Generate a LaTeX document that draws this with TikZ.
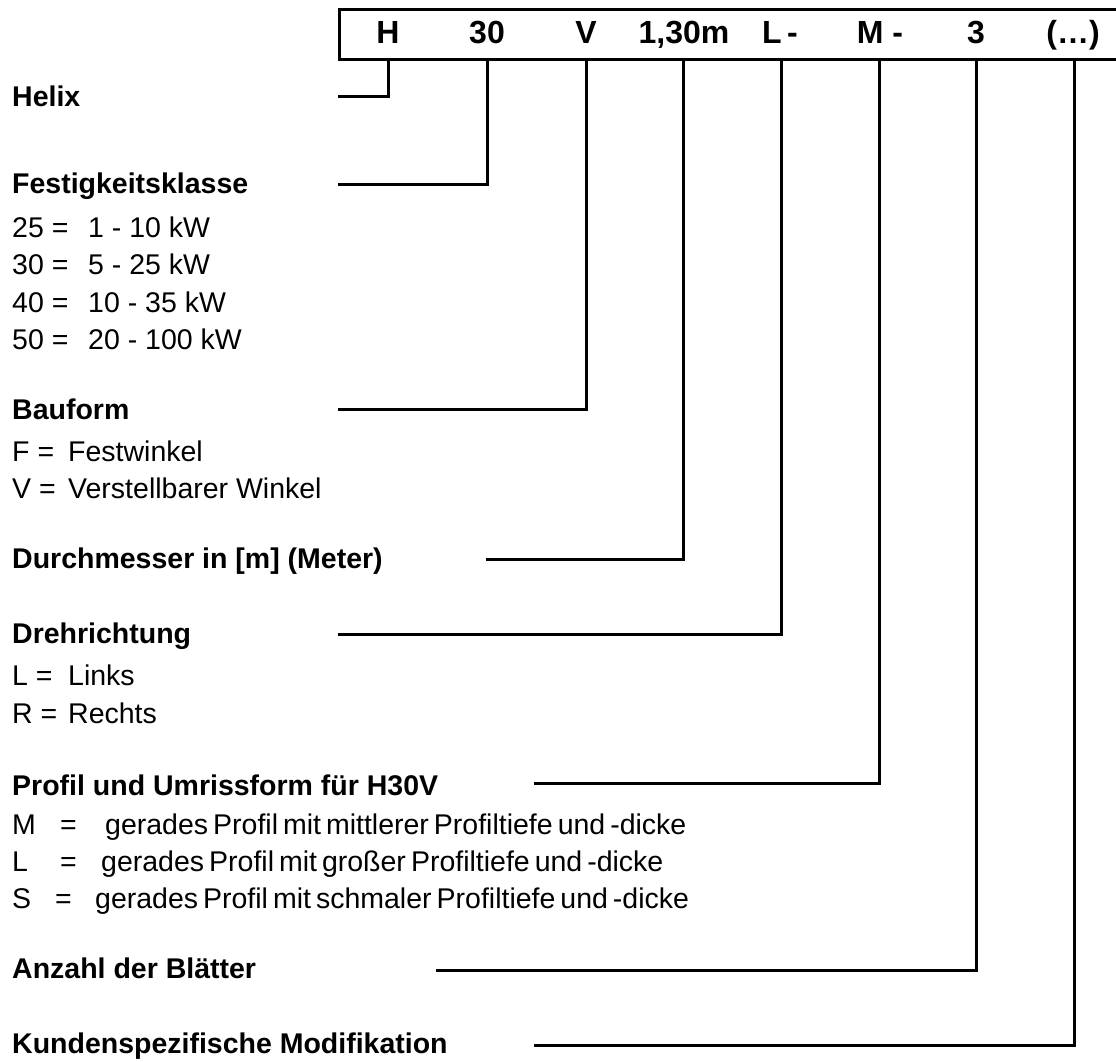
\documentclass[tikz,border=0pt]{standalone}
\usepackage{fontspec}
\setmainfont{Liberation Sans}
\newcommand{\tightsp}{\spaceskip=5pt plus 1pt minus 1pt\relax}
\begin{document}
\begin{tikzpicture}[x=1pt,y=-1pt,
  conn/.style={line width=3pt,line cap=rect},
  boxline/.style={line width=3pt},
  head/.style={anchor=base west,inner sep=0pt,font=\fontsize{28.5}{32}\selectfont\bfseries},
  item/.style={anchor=base west,inner sep=0pt,font=\fontsize{28.5}{32}\selectfont},
  code/.style={anchor=base,inner sep=0pt,font=\fontsize{32}{36}\selectfont\bfseries}]
\useasboundingbox (0,0) rectangle (1116,1062);
% header box (open to the right)
\draw[boxline] (1118,10) -- (339,10) -- (339,60) -- (1118,60);
% codes
\node[code] (cH) at (388,44) {H};
\node[code] (c30) at (487,44) {30};
\node[code] (cV) at (586,44) {V};
\node[code] (cD) at (684,44) {1,30m};
\node[code] (cL) at (780,44) {L\,-};
\node[code] (cM) at (880,44) {M -};
\node[code] (c3) at (976,44) {3};
\node[code] (cX) at (1073,44) {(\dots)};
% connector top points
\coordinate (tH) at (388,60);
\coordinate (t30) at (487,60);
\coordinate (tV) at (586,60);
\coordinate (tD) at (683,60);
\coordinate (tL) at (781,60);
\coordinate (tM) at (879,60);
\coordinate (t3) at (976,60);
\coordinate (tX) at (1074,60);
% connector left ends
\coordinate (eH) at (339,97);
\coordinate (e30) at (339,184);
\coordinate (eV) at (339,409);
\coordinate (eD) at (487,559);
\coordinate (eL) at (339,634);
\coordinate (eM) at (535,783);
\coordinate (e3) at (437,970);
\coordinate (eX) at (535,1045);
\draw[conn] (tH) |- (eH);
\draw[conn] (t30) |- (e30);
\draw[conn] (tV) |- (eV);
\draw[conn] (tD) |- (eD);
\draw[conn] (tL) |- (eL);
\draw[conn] (tM) |- (eM);
\draw[conn] (t3) |- (e3);
\draw[conn] (tX) |- (eX);
% texts
\node[head] (hH) at (12,107) {Helix};
\node[head] (h30) at (12,193) {Festigkeitsklasse};
\node[item] (i25) at (12,237) {\makebox[76pt][l]{25 =}1 - 10 kW};
\node[item] (i30) at (12,274) {\makebox[76pt][l]{30 =}5 - 25 kW};
\node[item] (i40) at (12,312) {\makebox[76pt][l]{40 =}10 - 35 kW};
\node[item] (i50) at (12,349) {\makebox[76pt][l]{50 =}20 - 100 kW};
\node[head] (hV) at (12,419) {Bauform};
\node[item] (iF) at (12,461) {\makebox[56pt][l]{F =}Festwinkel};
\node[item] (iVV) at (12,498) {\makebox[56pt][l]{V =}Verstellbarer Winkel};
\node[head] (hD) at (12,568) {Durchmesser in [m] (Meter)};
\node[head] (hL) at (12,643) {Drehrichtung};
\node[item] (iLL) at (12,685) {\makebox[56pt][l]{L =}Links};
\node[item] (iR) at (12,723) {\makebox[56pt][l]{R =}Rechts};
\node[head] (hM) at (12,795) {Profil und Umrissform für H30V};
\node[item] (iM) at (12,834) {\tightsp\makebox[48pt][l]{M}\makebox[45pt][l]{=}gerades Profil mit mittlerer Profiltiefe und -dicke};
\node[item] (iML) at (12,871) {\tightsp\makebox[48pt][l]{L}\makebox[41pt][l]{=}gerades Profil mit großer Profiltiefe und -dicke};
\node[item] (iS) at (12,908) {\tightsp\makebox[43pt][l]{S}\makebox[40pt][l]{=}gerades Profil mit schmaler Profiltiefe und -dicke};
\node[head] (h3) at (12,978) {Anzahl der Blätter};
\node[head] (hX) at (12,1053) {Kundenspezifische Modifikation};
\end{tikzpicture}
\end{document}
